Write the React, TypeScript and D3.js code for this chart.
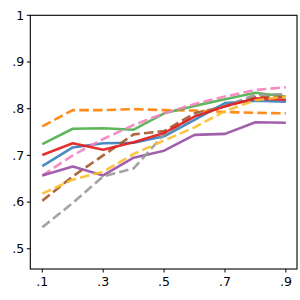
import React from "react";
import * as d3 from "d3";

const xs = [0.1, 0.2, 0.3, 0.4, 0.5, 0.6, 0.7, 0.8, 0.9];

const blue = [0.677, 0.717, 0.726, 0.727, 0.741, 0.776, 0.812, 0.817, 0.815];
const orange = [0.762, 0.797, 0.797, 0.799, 0.797, 0.796, 0.793, 0.791, 0.790];
const green = [0.724, 0.757, 0.758, 0.755, 0.790, 0.806, 0.820, 0.834, 0.826];
const pink = [0.657, 0.700, 0.735, 0.765, 0.790, 0.810, 0.826, 0.840, 0.846];
const brown = [0.603, 0.655, 0.700, 0.745, 0.752, 0.790, 0.805, 0.825, 0.826];
const purple = [0.657, 0.676, 0.657, 0.695, 0.710, 0.744, 0.746, 0.771, 0.770];
const gray = [0.546, 0.598, 0.655, 0.672, 0.745, 0.785, 0.805, 0.830, 0.831];
const red = [0.701, 0.726, 0.712, 0.728, 0.748, 0.783, 0.805, 0.822, 0.819];
const yellow = [0.618, 0.648, 0.665, 0.703, 0.732, 0.760, 0.795, 0.818, 0.826];

const xTicks = [0.1, 0.3, 0.5, 0.7, 0.9];
const xTickLabels = [".1", ".3", ".5", ".7", ".9"];
const yTicks = [0.5, 0.6, 0.7, 0.8, 0.9, 1.0];
const yTickLabels = [".5", ".6", ".7", ".8", ".9", "1"];

const series = [
  { values: blue, color: "#377eb8", dashed: false },
  { values: orange, color: "#ff7f00", dashed: true },
  { values: green, color: "#4daf4a", dashed: false },
  { values: pink, color: "#f781bf", dashed: true },
  { values: brown, color: "#a65628", dashed: true },
  { values: purple, color: "#984ea3", dashed: false },
  { values: gray, color: "#999999", dashed: true },
  { values: red, color: "#e41a1c", dashed: false },
  { values: yellow, color: "#fbbf2e", dashed: true },
];

export default function App() {
  const L = 30.3, R = 297, T = 15.3, B = 269;
  const x = d3.scaleLinear().domain([0.0606, 0.9365]).range([L, R]);
  const y = d3.scaleLinear().domain([0.4567, 1]).range([B, T]);
  const line = d3
    .line<number>()
    .x((_, i) => x(xs[i]))
    .y((d) => y(d));
  const font = "DejaVu Sans, sans-serif";
  return (
    <svg
      width={300}
      height={300}
      style={{ position: "absolute", left: 0, top: 0, background: "#fff" }}
    >
      <defs>
        <clipPath id="clip">
          <rect x={L} y={T} width={R - L} height={B - T} />
        </clipPath>
      </defs>
      <g clipPath="url(#clip)">
        {series.map((s, i) => (
          <path
            key={i}
            d={line(s.values) || ""}
            fill="none"
            stroke={s.color}
            strokeOpacity={0.9}
            strokeWidth={2.6}
            strokeDasharray={s.dashed ? "9.5,4.2" : undefined}
            strokeLinejoin="round"
          />
        ))}
      </g>
      <rect x={L} y={T} width={R - L} height={B - T} fill="none" stroke="#000" strokeWidth={1.1} />
      {yTicks.map((t, i) => (
        <g key={"y" + i}>
          <line x1={L - 3.5} x2={L} y1={y(t)} y2={y(t)} stroke="#000" strokeWidth={1} />
          <text
            x={L - 6}
            y={y(t)}
            dy="0.35em"
            textAnchor="end"
            fontFamily={font}
            fontSize={12.5}
            fill="#000"
          >
            {yTickLabels[i]}
          </text>
        </g>
      ))}
      {xTicks.map((t, i) => (
        <g key={"x" + i}>
          <line x1={x(t)} x2={x(t)} y1={B} y2={B + 3.5} stroke="#000" strokeWidth={1} />
          <text
            x={x(t)}
            y={B + 7}
            dy="0.76em"
            textAnchor="middle"
            fontFamily={font}
            fontSize={12.5}
            fill="#000"
          >
            {xTickLabels[i]}
          </text>
        </g>
      ))}
    </svg>
  );
}
